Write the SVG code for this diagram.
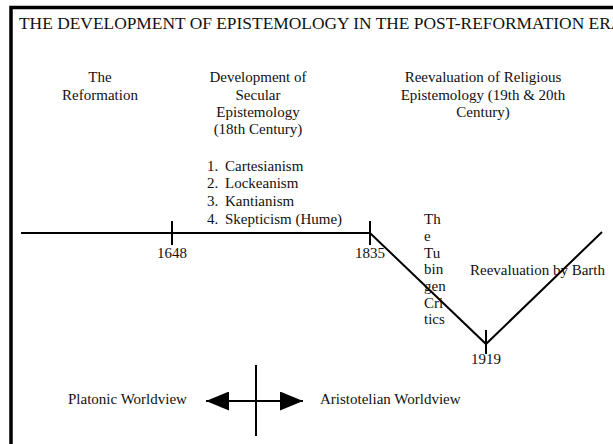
<svg xmlns="http://www.w3.org/2000/svg" width="613" height="444" viewBox="0 0 613 444">
<style>
text{font-family:"Liberation Serif","Times New Roman",serif;font-size:15px;fill:#111}
.c{text-anchor:middle}
.title{font-size:17.4px}
.ln{stroke:#000;stroke-width:2;fill:none}
</style>
<defs>
<marker id="ah" viewBox="0 0 10 10" refX="10" refY="5" markerWidth="23" markerHeight="19" markerUnits="userSpaceOnUse" orient="auto-start-reverse" preserveAspectRatio="none">
<path d="M0,0L10,5L0,10Z" fill="#000"/>
</marker>
</defs>
<rect width="613" height="444" fill="#fff"/>
<path d="M11,450V7.5H620" stroke="#000" stroke-width="3.5" fill="none"/>
<g id="title"><text class="title" x="19" y="29">THE DEVELOPMENT OF EPISTEMOLOGY IN THE POST-REFORMATION ERA</text></g>
<g id="reformation"><text class="c" x="100" y="82">The</text><text class="c" x="100" y="100">Reformation</text></g>
<g id="secular"><text class="c" x="258" y="82">Development of</text><text class="c" x="258" y="100">Secular</text><text class="c" x="258" y="117">Epistemology</text><text class="c" x="258" y="134">(18th Century)</text></g>
<g id="religious"><text class="c" x="483" y="82">Reevaluation of Religious</text><text class="c" x="483" y="100">Epistemology (19th &amp; 20th</text><text class="c" x="483" y="117">Century)</text></g>
<g id="list"><text x="207" y="171">1.</text><text x="225" y="171">Cartesianism</text><text x="207" y="188">2.</text><text x="225" y="188">Lockeanism</text><text x="207" y="206">3.</text><text x="225" y="206">Kantianism</text><text x="207" y="224">4.</text><text x="225" y="224">Skepticism (Hume)</text></g>
<g id="y1648"><text class="c" x="172" y="258">1648</text></g>
<g id="y1835"><text class="c" x="370" y="258">1835</text></g>
<g id="y1919"><text class="c" x="486" y="364">1919</text></g>
<g id="tubingen"><text x="424" y="224">Th</text><text x="424" y="241">e</text><text x="424" y="258">Tu</text><text x="424" y="274">bin</text><text x="424" y="291">gen</text><text x="424" y="308">Cri</text><text x="424" y="324">tics</text></g>
<g id="barth"><text x="470" y="275">Reevaluation by Barth</text></g>
<g id="platonic"><text x="68" y="404">Platonic Worldview</text></g>
<g id="aristotelian"><text x="320" y="404">Aristotelian Worldview</text></g>
<g id="connectors">
<path class="ln" d="M21,233H370L486,344L602,232"/>
<path class="ln" d="M172,221V245M370,221V245M486,330V354"/>
<path class="ln" d="M256,365V436"/>
<path class="ln" d="M206,401H303" marker-start="url(#ah)" marker-end="url(#ah)"/>
</g>
</svg>
